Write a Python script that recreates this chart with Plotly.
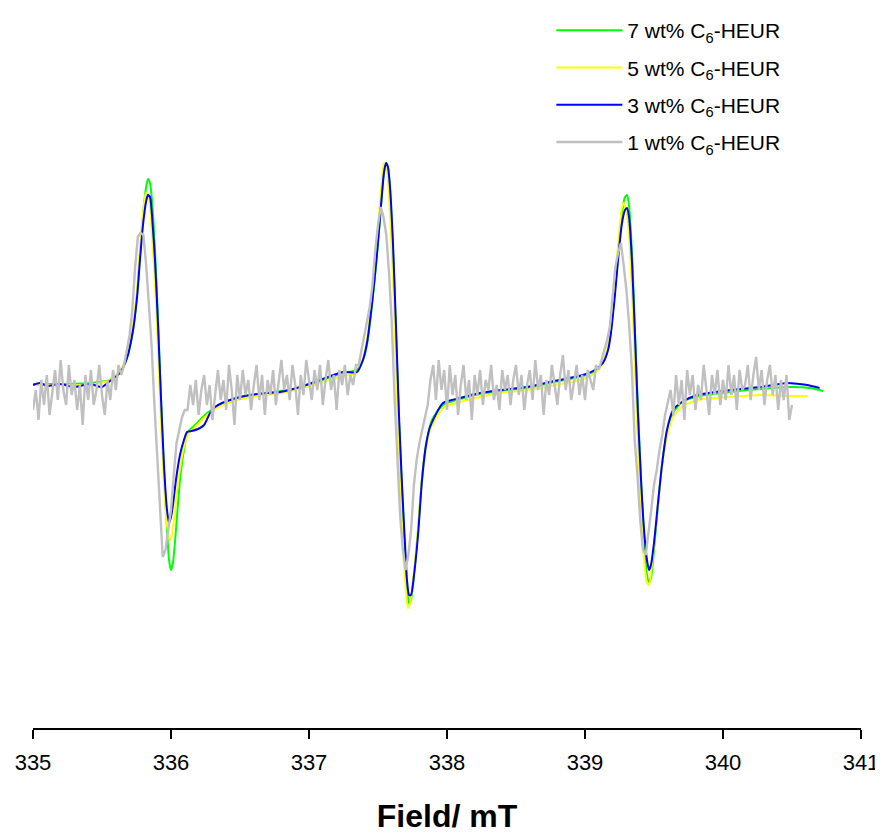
import numpy as np
import plotly.graph_objects as go

# ---------------- data (field in mT, intensity in arbitrary units) ----------------
green_field = [335.000, 335.196, 335.413, 335.558, 335.630, 335.681, 335.725, 335.754, 335.775, 335.797,
               335.819, 335.833, 335.848, 335.862, 335.884, 335.906, 335.928, 335.949, 335.971, 335.986,
               336.000, 336.014, 336.036, 336.065, 336.094, 336.123, 336.174, 336.246, 336.319, 336.428,
               336.572, 336.790, 336.935, 337.080, 337.246, 337.348, 337.391, 337.420, 337.457, 337.493,
               337.522, 337.543, 337.558, 337.572, 337.587, 337.609, 337.630, 337.652, 337.674, 337.696,
               337.710, 337.725, 337.739, 337.761, 337.790, 337.819, 337.848, 337.891, 337.971, 338.094,
               338.239, 338.384, 338.580, 338.746, 338.986, 339.072, 339.130, 339.167, 339.188, 339.217,
               339.246, 339.268, 339.290, 339.304, 339.319, 339.341, 339.362, 339.384, 339.406, 339.428,
               339.449, 339.464, 339.478, 339.500, 339.529, 339.558, 339.594, 339.638, 339.703, 339.833,
               340.051, 340.268, 340.486, 340.630, 340.725]
green_int = [1, 1, 2, 5, 13, 27, 55, 90, 130, 170,
             197, 206, 202, 185, 135, 65, -15, -85, -145, -175,
             -185, -178, -145, -95, -65, -47, -40, -30, -22, -15,
             -10, -6, -3, 4, 12, 15, 25, 40, 80, 130,
             180, 213, 222, 218, 195, 135, 55, -35, -105, -170,
             -205, -219, -215, -190, -145, -93, -60, -35, -20, -14,
             -9, -6, -3, 2, 9, 14, 23, 37, 55, 95,
             140, 172, 188, 190, 180, 130, 55, -25, -95, -155,
             -190, -197, -193, -165, -120, -80, -47, -28, -17, -11,
             -7, -4, -2, -3, -6]

yellow_field = [335.000, 335.196, 335.413, 335.558, 335.630, 335.681, 335.725, 335.754, 335.775, 335.797,
                335.819, 335.833, 335.848, 335.862, 335.884, 335.906, 335.928, 335.949, 335.971, 335.993,
                336.007, 336.029, 336.058, 336.094, 336.130, 336.174, 336.246, 336.319, 336.428, 336.572,
                336.790, 336.935, 337.080, 337.246, 337.348, 337.391, 337.420, 337.457, 337.493, 337.522,
                337.543, 337.558, 337.572, 337.587, 337.609, 337.630, 337.652, 337.674, 337.696, 337.717,
                337.732, 337.754, 337.783, 337.812, 337.841, 337.877, 337.971, 338.094, 338.239, 338.384,
                338.580, 338.746, 338.986, 339.072, 339.130, 339.167, 339.188, 339.217, 339.246, 339.268,
                339.282, 339.297, 339.319, 339.341, 339.362, 339.384, 339.406, 339.428, 339.449, 339.464,
                339.478, 339.500, 339.529, 339.558, 339.594, 339.638, 339.703, 339.812, 340.051, 340.268,
                340.464, 340.609]
yellow_int = [0, 0, 0, 5, 14, 30, 60, 95, 135, 172,
              192, 191, 178, 150, 100, 35, -40, -100, -140, -155,
              -150, -125, -90, -62, -48, -42, -32, -24, -17, -12,
              -8, -4, 2, 9, 12, 25, 45, 90, 145, 195,
              222, 220, 205, 170, 105, 20, -70, -140, -195, -223,
              -218, -195, -155, -105, -70, -45, -23, -17, -12, -8,
              -5, -1, 6, 12, 22, 40, 60, 105, 150, 178,
              182, 175, 150, 90, 15, -60, -125, -175, -198, -200,
              -188, -160, -118, -82, -52, -32, -22, -15, -12, -10,
              -11, -11]

blue_field = [335.000, 335.050, 335.100, 335.196, 335.300, 335.413, 335.500, 335.558, 335.630, 335.681,
              335.725, 335.754, 335.775, 335.797, 335.819, 335.833, 335.848, 335.862, 335.884, 335.906,
              335.928, 335.949, 335.971, 335.986, 336.000, 336.014, 336.036, 336.065, 336.094, 336.116,
              336.150, 336.196, 336.240, 336.283, 336.319, 336.370, 336.428, 336.500, 336.572, 336.700,
              336.790, 336.935, 337.080, 337.246, 337.348, 337.391, 337.420, 337.457, 337.493, 337.522,
              337.543, 337.558, 337.572, 337.587, 337.609, 337.630, 337.652, 337.674, 337.696, 337.710,
              337.725, 337.739, 337.761, 337.790, 337.819, 337.848, 337.877, 337.971, 338.094, 338.239,
              338.384, 338.580, 338.746, 338.986, 339.072, 339.130, 339.167, 339.188, 339.217, 339.246,
              339.268, 339.290, 339.304, 339.319, 339.341, 339.362, 339.384, 339.406, 339.428, 339.449,
              339.464, 339.478, 339.500, 339.529, 339.558, 339.594, 339.638, 339.703, 339.812, 340.051,
              340.268, 340.464, 340.550, 340.609, 340.700]
blue_int = [0, 2, -1, 1, -2, 1, -2, 4, 12, 27,
            55, 88, 125, 160, 183, 190, 188, 170, 125, 60,
            -15, -80, -125, -138, -132, -120, -95, -70, -55, -47,
            -46, -44, -40, -28, -22, -18, -15, -12, -10, -8,
            -7, -2, 5, 13, 13, 25, 42, 82, 132, 180,
            212, 222, 218, 198, 140, 60, -30, -100, -160, -195,
            -210, -210, -190, -150, -95, -60, -42, -18, -13, -8,
            -5, -2, 3, 10, 15, 22, 35, 52, 90, 135,
            162, 175, 177, 168, 122, 50, -30, -95, -145, -175,
            -185, -180, -158, -118, -80, -45, -25, -17, -10, -5,
            -2, 2, 1, 0, -3]

# 1 wt% spectrum: sampled every 0.02 mT starting at 335.00
grey_start = 335.00
grey_step = 0.02
grey_int = [
    -25, -5, -35, 5, -20, 10, -30, -10, 15, -15,
    25, -5, -20, 20, -10, 5, -25, 0, -40, 10,
    -15, 15, -20, -5, 20, -10, -30, 5, -15, 15,
    -5, 20, 10, 20, 35, 50, 75, 118, 148, 152,
    150, 120, 80, 38, -20, -72, -110, -172, -165, -145,
    -125, -90, -58, -45, -32, -25, -25, 0, -20, 5,
    -30, -5, 10, -20, 0, -35, -10, 15, -15, 5,
    -25, 20, -5, -40, 10, -15, 15, -10, 5, -25,
    0, 20, -15, 10, -30, 5, -10, 15, -20, 0,
    25, -5, 10, -15, 20, 0, -30, 10, -10, 25,
    5, -15, 15, -5, 20, -20, 5, 25, -5, 10,
    -25, 15, 0, 20, -10, 10, 0, 20, 20, 35,
    50, 62, 78, 100, 135, 160, 178, 168, 150, 112,
    62, -12, -78, -130, -165, -185, -170, -145, -100, -75,
    -58, -45, -30, -20, 5, 20, -15, 25, -5, 15,
    -25, 20, -10, 10, -30, 0, 20, -15, 5, -35,
    10, -10, 15, -20, 5, -5, 20, -15, 0, -25,
    15, -5, 10, -20, 5, 20, -10, 10, -25, 0,
    15, -15, 25, -5, 10, -30, 5, -10, 20, 0,
    -20, 10, 30, -5, 15, -15, 5, 20, -10, 10,
    -15, 15, 5, -5, 20, 15, 25, 35, 45, 58,
    85, 118, 132, 142, 120, 95, 60, 15, -55, -90,
    -135, -165, -170, -150, -125, -100, -85, -65, -50, -30,
    -18, -5, -30, 10, -20, 5, -35, 15, -10, 10,
    -25, 0, -15, 20, -5, -30, 10, -10, 15, -20,
    5, -15, 20, -10, 10, -25, 15, -5, 0, 20,
    -15, 10, 28, -5, 15, -20, 5, 20, -10, 10,
    -25, 5, -15, 10, -35, -20]
grey_field = [round(grey_start + grey_step * i, 3) for i in range(len(grey_int))]

series = [
    ("7 wt% C<sub>6</sub>-HEUR", green_field, green_int, "#00FF00", 2, "spline"),
    ("5 wt% C<sub>6</sub>-HEUR", yellow_field, yellow_int, "#FFFF00", 2, "spline"),
    ("3 wt% C<sub>6</sub>-HEUR", blue_field, blue_int, "#0000FF", 2, "spline"),
    ("1 wt% C<sub>6</sub>-HEUR", grey_field, grey_int, "#C0C0C0", 2.4, "linear"),
]

x_ticks = [335, 336, 337, 338, 339, 340, 341]

fig = go.Figure()
for i, (name, xs, ys, color, w, shape) in enumerate(series):
    fig.add_trace(go.Scatter(
        x=xs, y=ys, mode="lines", name=name, legendgroup=str(i),
        line=dict(color=color, width=w, shape=shape, smoothing=0.6),
    ))

# the page body adds an 8px offset, so the figure is 8px smaller and margins shifted
fig.update_layout(
    width=875, height=826,
    margin=dict(l=25, r=22, t=2, b=106, autoexpand=False),
    paper_bgcolor="white", plot_bgcolor="white",
    font=dict(family="Liberation Sans, Arial, sans-serif", color="black"),
    showlegend=True,
    legend=dict(
        x=0.626, y=1.0, xanchor="left", yanchor="top",
        font=dict(size=21, color="black"),
        bgcolor="rgba(0,0,0,0)", itemwidth=66,
        tracegroupgap=7, traceorder="grouped",
    ),
    xaxis=dict(
        range=[335, 341], tickvals=x_ticks, ticktext=[str(t) for t in x_ticks],
        showline=True, linecolor="black", linewidth=1.5,
        ticks="outside", ticklen=9, tickwidth=1.5, tickcolor="black",
        showgrid=False, zeroline=False, automargin=False,
        ticklabelstandoff=5,
        tickfont=dict(size=22, color="black"),
        title=dict(text="<b>Field/ mT</b>", font=dict(size=32, color="black"), standoff=43),
    ),
    yaxis=dict(range=[-343, 375], visible=False, showgrid=False, zeroline=False),
)

fig.write_html("out.html")
